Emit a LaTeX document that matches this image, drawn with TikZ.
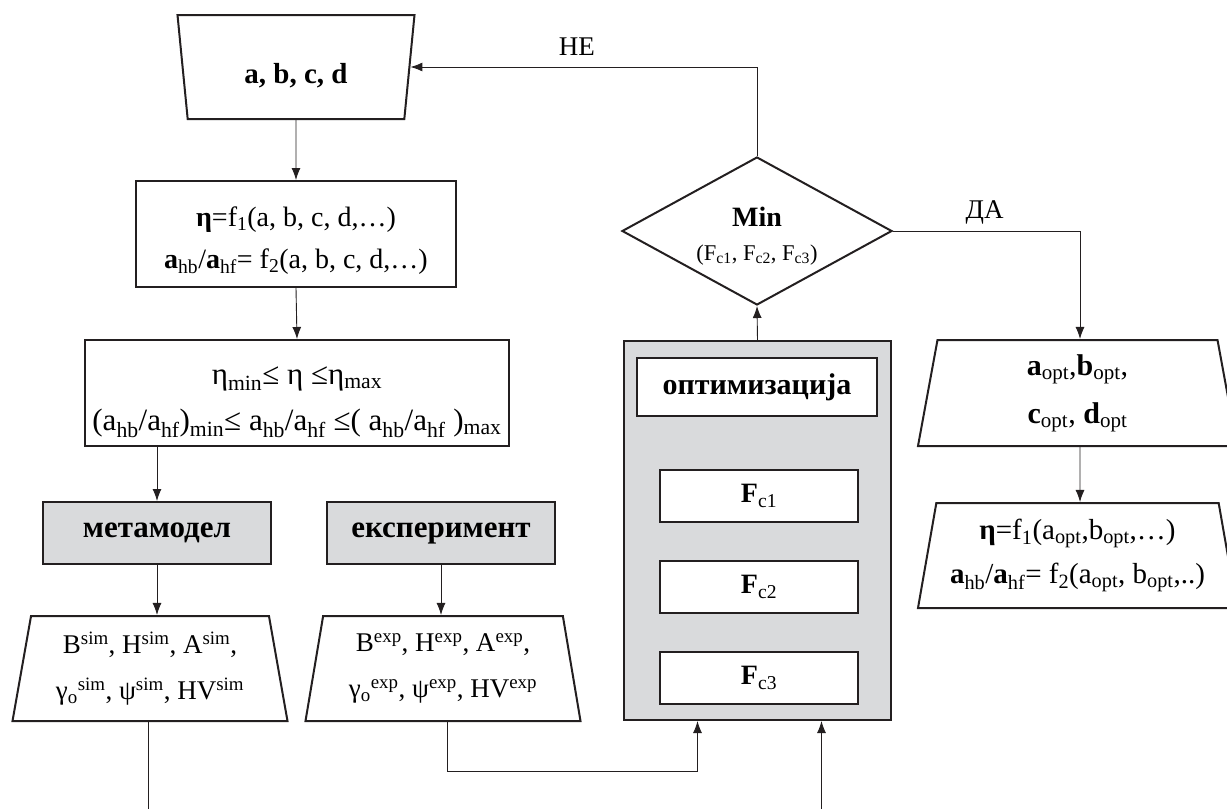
\documentclass[tikz,border=0pt]{standalone}
\usepackage{fontspec}
\setmainfont{Liberation Serif}
\usetikzlibrary{shapes.geometric,arrows.meta}
\definecolor{flowgray}{RGB}{217,218,220}
\definecolor{flowink}{RGB}{35,31,32}

\begin{document}
\begin{tikzpicture}[
  flowbox/.style={draw=flowink, line width=2pt, align=center, inner sep=0pt,
                  font=\fontsize{28}{42}\selectfont},
  greybox/.style={flowbox, fill=flowgray, font=\fontsize{31}{34}\selectfont\bfseries},
  inshape/.style={flowbox, trapezium, trapezium stretches body,
                  trapezium left angle=103.8, trapezium right angle=103.8},
  outshape/.style={flowbox, trapezium, trapezium stretches body,
                   trapezium left angle=75.8, trapezium right angle=75.8},
  innerbox/.style={draw=flowink, line width=1.1pt, fill=white, inner sep=0pt,
                   font=\fontsize{28}{32}\selectfont},
  flowedge/.style={draw=flowink, line width=0.9pt, -{Latex[length=12pt,width=9pt]}},
  flowline/.style={draw=flowink, line width=0.9pt},
  flowlabel/.style={font=\fontsize{27}{30}\selectfont, inner sep=1pt},
]
  \useasboundingbox (0pt,0pt) rectangle (1227pt,-809pt);
  % left column
  \node[inshape, minimum width=237pt, minimum height=104pt, font=\fontsize{29}{34}\selectfont\bfseries] (inp) at (296.000pt,-67.000pt) {\rule{0pt}{37pt}a, b, c, d};
  \node[flowbox, minimum width=320pt, minimum height=106pt] (eta) at (296.000pt,-234.000pt) {\rule{0pt}{32pt}\textbf{η}=f\textsubscript{1}(a, b, c, d,…)\\\textbf{a}\textsubscript{hb}/\textbf{a}\textsubscript{hf}= f\textsubscript{2}(a, b, c, d,…)};
  \draw[flowedge] (inp.south) -- (eta.north);
  \node[flowbox, minimum width=424pt, minimum height=106pt, font=\fontsize{31}{46}\selectfont] (cons) at (297.000pt,-393.000pt) {\rule{0pt}{36pt}η\textsubscript{min}≤ η ≤η\textsubscript{max}\\(a\textsubscript{hb}/a\textsubscript{hf})\textsubscript{min}≤ a\textsubscript{hb}/a\textsubscript{hf} ≤( a\textsubscript{hb}/a\textsubscript{hf} )\textsubscript{max}};
  \draw[flowedge] (eta.south) -- (cons.north);
  \node[greybox, minimum width=228pt, minimum height=62pt] (meta) at (157.000pt,-533.000pt) {метамодел};
  \draw[flowedge] (cons.south -| meta.north) -- (meta.north);
  \node[greybox, minimum width=228pt, minimum height=62pt] (expr) at (441.000pt,-533.000pt) {експеримент};
  \node[outshape, minimum width=275pt, minimum height=105pt, font=\fontsize{27}{46}\selectfont] (simout) at (150.000pt,-668.500pt) {B\textsuperscript{sim}, H\textsuperscript{sim}, A\textsuperscript{sim},\\γ\textsubscript{o}\textsuperscript{sim}, ψ\textsuperscript{sim}, HV\textsuperscript{sim}};
  \draw[flowedge] (meta.south) -- (meta.south |- simout.north);
  \node[outshape, minimum width=275pt, minimum height=105pt, font=\fontsize{27}{46}\selectfont] (expout) at (443.000pt,-668.500pt) {B\textsuperscript{exp}, H\textsuperscript{exp}, A\textsuperscript{exp},\\γ\textsubscript{o}\textsuperscript{exp}, ψ\textsuperscript{exp}, HV\textsuperscript{exp}};
  \draw[flowedge] (expr.south) -- (expr.south |- expout.north);
  \coordinate (simend) at (148.000pt,-809.000pt);
  \draw[flowline] (simout.south -| simend) -- (simend);
  % optimisation block
  \node[greybox, minimum width=267pt, minimum height=379pt] (opt) at (757.500pt,-530.500pt) {};
  \node[innerbox, minimum width=240pt, minimum height=58pt, font=\fontsize{30}{34}\selectfont\bfseries] (optt) at (757.000pt,-387.000pt) {оптимизација};
  \node[innerbox, minimum width=198pt, minimum height=52pt] (fc1) at (759.000pt,-496.000pt) {\textbf{F}\textsubscript{c1}};
  \node[innerbox, minimum width=198pt, minimum height=52pt] (fc2) at (759.000pt,-587.000pt) {\textbf{F}\textsubscript{c2}};
  \node[innerbox, minimum width=198pt, minimum height=52pt] (fc3) at (759.000pt,-678.000pt) {\textbf{F}\textsubscript{c3}};
  \draw[flowedge] ([xshift=4pt]expout.south) -- ++(0pt,-49pt) -| ([xshift=-60pt]opt.south);
  \coordinate (optend) at (821.500pt,-809.000pt);
  \draw[flowedge] (optend) -- (optend |- opt.south);
  % decision
  \node[flowbox, diamond, minimum width=270pt, minimum height=148pt] (mind) at (757.000pt,-231.000pt) {};
  \node[align=center, inner sep=0pt, font=\fontsize{22.5}{34}\selectfont] (mintext) at (757.000pt,-236.000pt) {{\fontsize{28}{34}\selectfont\bfseries Min}\\(F\textsubscript{c1}, F\textsubscript{c2}, F\textsubscript{c3})};
  \draw[flowedge] (opt.north) -- (mind.south);
  \draw[flowedge] (mind.north) |- (inp) node[flowlabel, pos=0.76, above=10pt] (nolbl) {НЕ};
  % right column
  \node[outshape, minimum width=319pt, minimum height=106pt, font=\fontsize{30}{48}\selectfont] (aopt) at (1077.500pt,-393.000pt) {\textbf{a}\textsubscript{opt},\textbf{b}\textsubscript{opt},\\\textbf{c}\textsubscript{opt}, \textbf{d}\textsubscript{opt}};
  \draw[flowedge] (mind.east) -| ([xshift=2.5pt]aopt.north) node[flowlabel, pos=0.245, above=5pt] (yeslbl) {ДА};
  \node[outshape, minimum width=319pt, minimum height=105pt, font=\fontsize{29}{44}\selectfont] (etaopt) at (1077.500pt,-555.500pt) {\textbf{η}=f\textsubscript{1}(a\textsubscript{opt},b\textsubscript{opt},…)\\\textbf{a}\textsubscript{hb}/\textbf{a}\textsubscript{hf}= f\textsubscript{2}(a\textsubscript{opt}, b\textsubscript{opt},..)};
  \draw[flowedge] ([xshift=2.5pt]aopt.south) -- ([xshift=2.5pt]etaopt.north);
\end{tikzpicture}
\end{document}
